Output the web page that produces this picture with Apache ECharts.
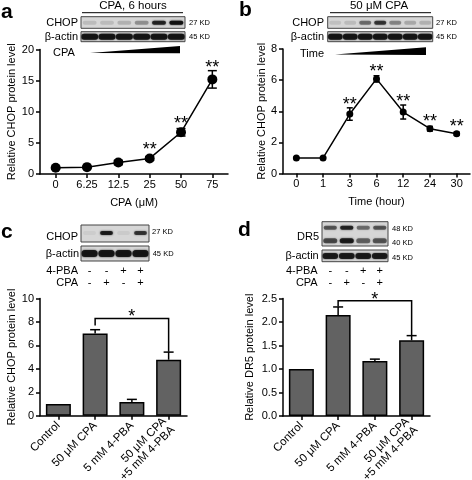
<!DOCTYPE html>
<html><head><meta charset="utf-8">
<script src="https://cdn.jsdelivr.net/npm/echarts@6/dist/echarts.min.js"></script>
<style>html,body{margin:0;padding:0;background:#fff}#c{width:472px;height:480px}</style>
</head><body><div id="c"></div>
<script>
// ---- data ----
const catsA = ['0', '6.25', '12.5', '25', '50', '75'];
const meanA = [1.0, 1.1, 1.85, 2.5, 6.7, 15.2];
const errA = [0.1, 0.15, 0.35, 0.3, 0.6, 1.4];
const sigA = ['', '', '', '**', '**', '**'];

const catsB = ['0', '1', '3', '6', '12', '24', '30'];
const meanB = [1.0, 1.0, 3.82, 6.08, 3.95, 2.88, 2.56];
const errB = [0.02, 0.02, 0.4, 0.2, 0.45, 0.15, 0.1];
const sigB = ['', '', '**', '**', '**', '**', '**'];

const catsCD = ['Control', '50 \u03bcM CPA', '5 mM 4-PBA', '50 \u03bcM CPA\n+5 mM 4-PBA'];
const meanC = [1.0, 7.02, 1.18, 4.78];
const errC = [0, 0.32, 0.22, 0.65];
const bracketC = [1, 3, 8.3, 7.7, 5.45];
const meanD = [1.0, 2.15, 1.17, 1.61];
const errD = [0, 0.17, 0.04, 0.1];
const bracketD = [1, 3, 2.45, 2.33, 1.72];

const pbaSigns = ['-', '-', '+', '+'];
const cpaSigns = ['-', '+', '-', '+'];

// blot band intensities (0..1)
const blotA_CHOP = [0.12, 0.12, 0.16, 0.3, 0.8, 0.95];
const blotA_actin = [0.9, 0.9, 0.9, 0.9, 0.9, 0.9];
const blotB_CHOP = [0.1, 0.12, 0.45, 0.7, 0.35, 0.2, 0.16];
const blotB_actin = [0.9, 0.9, 0.9, 0.9, 0.9, 0.9, 0.9];
const blotC_CHOP = [0.05, 0.85, 0.06, 0.7];
const blotC_actin = [0.9, 0.9, 0.9, 0.9];
const blotD_DR5_48 = [0.55, 0.8, 0.45, 0.55];
const blotD_DR5_40 = [0.6, 0.85, 0.5, 0.55];
const blotD_actin = [0.85, 0.85, 0.85, 0.85];

// ---- helpers ----
const FONT = 'Arial, "Liberation Sans", Helvetica, sans-serif';
const chart = echarts.init(document.getElementById('c'), null, {renderer: 'canvas'});
const txt = {color: '#000', fontFamily: FONT, fontSize: 11};

function yAx(gi, min, max, interval, name, gap, fmt) {
  return {
    type: 'value', gridIndex: gi, min, max, interval, name, nameLocation: 'middle', nameGap: gap,
    nameTextStyle: Object.assign({}, txt),
    axisLine: {show: true, lineStyle: {color: '#000', width: 1.5}},
    axisTick: {show: true, length: 4, lineStyle: {color: '#000', width: 1.5}},
    axisLabel: Object.assign({margin: 6, formatter: fmt}, txt),
    splitLine: {show: false}
  };
}
function xAx(gi, data, name, rotate) {
  const lab = Object.assign({interval: 0, rotate: rotate || 0, margin: rotate ? 8 : 5}, txt);
  if (rotate) lab.fontSize = 11.5;
  return {
    type: 'category', gridIndex: gi, data, boundaryGap: true, name, nameLocation: 'middle', nameGap: 23,
    nameTextStyle: Object.assign({}, txt),
    axisLine: {show: true, lineStyle: {color: '#000', width: 1.5}},
    axisTick: {show: true, alignWithLabel: true, length: 4, lineStyle: {color: '#000', width: 1.5}},
    axisLabel: lab,
    splitLine: {show: false}
  };
}
function errSeries(gi, means, errs, sigs, cap, markerR, upOnly) {
  return {
    type: 'custom', xAxisIndex: gi, yAxisIndex: gi, z: 5,
    data: means.map((m, i) => [i, m, errs[i]]),
    encode: {x: 0, y: 1},
    renderItem: function (params, api) {
      const i = api.value(0), m = api.value(1), e = api.value(2);
      const c = api.coord([i, m]);
      const top = api.coord([i, m + e]);
      const bot = api.coord([i, m - e]);
      const st = {stroke: '#000', lineWidth: 1.5};
      const ch = [];
      if (e > 0) {
        ch.push({type: 'line', shape: {x1: c[0], y1: upOnly ? c[1] : bot[1], x2: c[0], y2: top[1]}, style: st});
        ch.push({type: 'line', shape: {x1: c[0] - cap / 2, y1: top[1], x2: c[0] + cap / 2, y2: top[1]}, style: st});
        if (!upOnly) ch.push({type: 'line', shape: {x1: c[0] - cap / 2, y1: bot[1], x2: c[0] + cap / 2, y2: bot[1]}, style: st});
      }
      const s = sigs ? sigs[i] : '';
      if (s) {
        const yTop = Math.min(top[1], c[1] - markerR);
        ch.push({type: 'text', style: {text: s, x: c[0], y: yTop - 3, align: 'center', verticalAlign: 'middle',
          font: '18px ' + FONT, fill: '#000'}});
      }
      return {type: 'group', children: ch};
    }
  };
}
function bracketSeries(gi, b) {
  return {
    type: 'custom', xAxisIndex: gi, yAxisIndex: gi, z: 6,
    data: [b], encode: {x: 0, y: 2},
    renderItem: function (params, api) {
      const x1 = api.value(0), x2 = api.value(1), y = api.value(2), fl = api.value(3), fr = api.value(4);
      const pL = api.coord([x1, fl]), pT = api.coord([x1, y]), pT2 = api.coord([x2, y]), pR = api.coord([x2, fr]);
      return {type: 'group', children: [
        {type: 'polyline', shape: {points: [pL, pT, pT2, pR]}, style: {stroke: '#000', lineWidth: 1.5, fill: null}},
        {type: 'text', style: {text: '*', x: (pT[0] + pT2[0]) / 2, y: pT[1] - 1, align: 'center', verticalAlign: 'middle',
          font: '18px ' + FONT, fill: '#000'}}
      ]};
    }
  };
}
function blot(x, y, w, h, rows) {
  const n = rows[0].vals.length, lw = w / n;
  const els = [{type: 'rect', shape: {x, y, width: w, height: h}, style: {fill: '#d6d6d6'}, z: 1}];
  rows.forEach(r => {
    r.vals.forEach((v, i) => {
      const bw = lw * r.frac;
      els.push({type: 'rect', shape: {x: x + lw * i + (lw - bw) / 2, y: y + r.cy - r.bh / 2, width: bw, height: r.bh, r: r.bh / 2},
        style: {fill: 'rgba(15,15,15,' + v + ')', shadowBlur: 2, shadowColor: 'rgba(15,15,15,' + v + ')'}, z: 2});
    });
  });
  els.push({type: 'rect', shape: {x, y, width: w, height: h}, style: {fill: null, stroke: '#444', lineWidth: 1}, z: 3});
  return els;
}
function label(text, x, y, align, size, weight) {
  return {type: 'text', z: 4, style: {text, x, y, align: align || 'left', verticalAlign: 'middle',
    font: (weight || 'normal') + ' ' + (size || 11) + 'px ' + FONT, fill: '#000'}};
}
function signs(arr, x, w, y) {
  const lw = w / arr.length;
  return arr.map((s, i) => label(s, x + lw * (i + 0.5), y, 'center', 11));
}

const graphics = [].concat(
  // panel letters
  label('a', 1, 12, 'left', 21, 'bold'), label('b', 239, 10, 'left', 21, 'bold'),
  label('c', 1, 232, 'left', 21, 'bold'), label('d', 238, 230, 'left', 21, 'bold'),
  // panel a blot
  label('CPA, 6 hours', 133, 6, 'center', 11.5),
  {type: 'line', shape: {x1: 82, y1: 12.7, x2: 183, y2: 12.7}, style: {stroke: '#000', lineWidth: 1}},
  blot(81, 16.7, 104, 11.6, [{vals: blotA_CHOP, cy: 6, bh: 4, frac: 0.8}]),
  blot(81, 31.7, 104, 10, [{vals: blotA_actin, cy: 5, bh: 6, frac: 0.98}]),
  label('CHOP', 78, 22.7, 'right'), label('\u03b2-actin', 78, 36.7, 'right'),
  label('27 KD', 189, 22.7, 'left', 7.5), label('45 KD', 189, 36.7, 'left', 7.5),
  label('CPA', 53, 52.7, 'left'),
  {type: 'polygon', shape: {points: [[90, 53], [180, 46], [180, 53.3]]}, style: {fill: '#000'}},
  // panel b blot
  label('50 \u03bcM CPA', 379, 6, 'center', 11.5),
  {type: 'line', shape: {x1: 330, y1: 12.7, x2: 431, y2: 12.7}, style: {stroke: '#000', lineWidth: 1}},
  blot(327.7, 16.7, 105, 11.6, [{vals: blotB_CHOP, cy: 6, bh: 4, frac: 0.8}]),
  blot(327.7, 31.7, 105, 10, [{vals: blotB_actin, cy: 5, bh: 6, frac: 0.98}]),
  label('CHOP', 324, 22.7, 'right'), label('\u03b2-actin', 324, 36.7, 'right'),
  label('27 KD', 436, 22.7, 'left', 7.5), label('45 KD', 436, 36.7, 'left', 7.5),
  label('Time', 300, 54, 'left'),
  {type: 'polygon', shape: {points: [[335, 54.5], [426, 47.3], [426, 55]]}, style: {fill: '#000'}},
  // panel c blot
  blot(81, 225, 68, 17, [{vals: blotC_CHOP, cy: 8, bh: 4, frac: 0.75}]),
  blot(81, 246, 68, 15, [{vals: blotC_actin, cy: 7.5, bh: 7, frac: 0.95}]),
  label('CHOP', 78, 237, 'right'), label('\u03b2-actin', 79, 253.7, 'right'),
  label('27 KD', 152, 232, 'left', 7.5), label('45 KD', 152.7, 254, 'left', 7.5),
  label('4-PBA', 78, 270.7, 'right'), label('CPA', 78, 282.7, 'right'),
  signs(pbaSigns, 81, 68, 270.7), signs(cpaSigns, 81, 68, 282.7),
  // panel d blot
  blot(322, 221.7, 66, 24.3, [{vals: blotD_DR5_48, cy: 6, bh: 4, frac: 0.8}, {vals: blotD_DR5_40, cy: 19, bh: 5, frac: 0.85}]),
  blot(322, 250, 66, 11.7, [{vals: blotD_actin, cy: 6, bh: 6, frac: 0.95}]),
  label('DR5', 319, 236.7, 'right'), label('\u03b2-actin', 318.7, 255.7, 'right'),
  label('48 KD', 392, 229.3, 'left', 7.5), label('40 KD', 392, 242.7, 'left', 7.5), label('45 KD', 392, 258.3, 'left', 7.5),
  label('4-PBA', 317.7, 271, 'right'), label('CPA', 317.7, 283.3, 'right'),
  signs(pbaSigns, 322, 66, 271), signs(cpaSigns, 322, 66, 283.3)
);

const option = {
  animation: false,
  backgroundColor: '#fff',
  textStyle: {fontFamily: FONT},
  grid: [
    {left: 40, top: 49.5, width: 188, height: 124.5, containLabel: false, outerBoundsMode: 'none'},
    {left: 283, top: 49, width: 187, height: 124.5, containLabel: false, outerBoundsMode: 'none'},
    {left: 40, top: 298.5, width: 147, height: 117.3, containLabel: false, outerBoundsMode: 'none'},
    {left: 283, top: 298.5, width: 147, height: 117.5, containLabel: false, outerBoundsMode: 'none'}
  ],
  xAxis: [
    xAx(0, catsA, 'CPA (\u03bcM)'),
    xAx(1, catsB, 'Time (hour)'),
    xAx(2, catsCD, '', 45),
    xAx(3, catsCD, '', 45)
  ],
  yAxis: [
    yAx(0, 0, 20, 5, 'Relative CHOP protein level', 18),
    yAx(1, 0, 8, 2, 'Relative CHOP protein level', 16),
    yAx(2, 0, 10, 2, 'Relative CHOP protein level', 20),
    yAx(3, 0, 2.5, 0.5, 'Relative DR5 protein level', 28, v => v.toFixed(1))
  ],
  series: [
    {type: 'line', xAxisIndex: 0, yAxisIndex: 0, data: meanA, symbol: 'circle', symbolSize: 10,
      itemStyle: {color: '#000'}, lineStyle: {color: '#000', width: 1.5}, z: 3},
    errSeries(0, meanA, errA, sigA, 9, 5, false),
    {type: 'line', xAxisIndex: 1, yAxisIndex: 1, data: meanB, symbol: 'circle', symbolSize: 7,
      itemStyle: {color: '#000'}, lineStyle: {color: '#000', width: 1.5}, z: 3},
    errSeries(1, meanB, errB, sigB, 6, 3.5, false),
    {type: 'bar', xAxisIndex: 2, yAxisIndex: 2, data: meanC, barWidth: 25,
      itemStyle: {color: '#626262', borderColor: '#000', borderWidth: 1.5}},
    errSeries(2, meanC, errC, null, 10, 0, true),
    bracketSeries(2, bracketC),
    {type: 'bar', xAxisIndex: 3, yAxisIndex: 3, data: meanD, barWidth: 25,
      itemStyle: {color: '#626262', borderColor: '#000', borderWidth: 1.5}},
    errSeries(3, meanD, errD, null, 10, 0, true),
    bracketSeries(3, bracketD)
  ],
  graphic: graphics
};
chart.setOption(option);
</script>
</body></html>
